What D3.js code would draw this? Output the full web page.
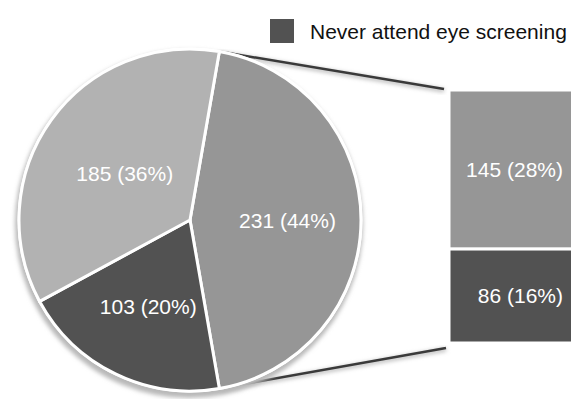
<!DOCTYPE html>
<html>
<head>
<meta charset="utf-8">
<script src="https://cdn.jsdelivr.net/npm/d3@7"></script>
<style>
  html, body { margin: 0; padding: 0; background: #fff; overflow: hidden; }
  svg { display: block; }
  text { font-family: "Liberation Sans", Arial, sans-serif; }
</style>
</head>
<body>
<svg id="chart" width="571" height="399"></svg>
<script>
// ---- data ----
const pieCategories = ["Other (split)", "Never attend eye screening", "Attend eye screening"];
const pieValues = [231, 103, 185];
const piePercents = ["44%", "20%", "36%"];
const barCategories = ["Split A", "Split B"];
const barValues = [145, 86];
const barPercents = ["28%", "16%"];
const legendLabels = ["Never attend eye screening"];

// ---- styles / layout ----
const pieColors = ["#969696", "#525252", "#b2b2b2"];
const barColors = ["#969696", "#525252"];
const labelRadius = [0.57, 0.56, 0.47];
const W = 571, H = 399;
const cx = 190, cy = 220, R = 171;

const svg = d3.select("#chart");
const defs = svg.append("defs");
defs.append("filter").attr("id", "blur").attr("x", "-10%").attr("y", "-10%")
  .attr("width", "120%").attr("height", "120%")
  .append("feGaussianBlur").attr("stdDeviation", 2);

// pie layout: "other" slice centred at the right
const total = d3.sum(pieValues);
const start = Math.PI / 2 - (pieValues[0] / total) * Math.PI;
const pie = d3.pie().sort(null).startAngle(start).endAngle(start + 2 * Math.PI);
const arcs = pie(pieValues);
const arc = d3.arc().innerRadius(0).outerRadius(R);

// bar scales
const barTotal = d3.sum(barValues);
const y = d3.scaleLinear().domain([0, barTotal]).range([343, 90]);
const x = d3.scaleBand().domain(["bar"]).range([449, 589]).padding(0);

// connector lines (drawn beneath the pie)
const other = arcs[0];
const pTop = [cx + R * Math.sin(other.startAngle), cy - R * Math.cos(other.startAngle)];
const pBot = [cx + R * Math.sin(other.endAngle), cy - R * Math.cos(other.endAngle)];
const conn = svg.append("g");
[[pTop, [x("bar") - 5, y(barTotal) - 1]], [pBot, [x("bar") - 3, y(0) + 5]]].forEach(([a, b]) => {
  conn.append("line").attr("x1", a[0]).attr("y1", a[1] + 1.5).attr("x2", b[0]).attr("y2", b[1] + 1.5)
    .attr("stroke", "#aaa").attr("stroke-width", 3).attr("filter", "url(#blur)");
  conn.append("line").attr("x1", a[0]).attr("y1", a[1]).attr("x2", b[0]).attr("y2", b[1])
    .attr("stroke", "#3a3a3a").attr("stroke-width", 2.5);
});

// pie shadow / bevel
const pg = svg.append("g").attr("transform", `translate(${cx},${cy})`);
pg.append("circle").attr("cx", -1).attr("cy", 4).attr("r", R + 3)
  .attr("fill", "#b8b8b8").attr("filter", "url(#blur)");
pg.append("circle").attr("r", R + 1.5).attr("fill", "#fff");

pg.selectAll("path.slice").data(arcs).join("path")
  .attr("class", "slice")
  .attr("d", arc)
  .attr("fill", (d, i) => pieColors[i])
  .attr("stroke", "#fff").attr("stroke-width", 3).attr("stroke-linejoin", "round");

pg.selectAll("text.plabel").data(arcs).join("text")
  .attr("class", "plabel")
  .attr("transform", (d, i) => {
    const a = (d.startAngle + d.endAngle) / 2;
    const r = R * labelRadius[i];
    return `translate(${r * Math.sin(a)},${-r * Math.cos(a)})`;
  })
  .attr("text-anchor", "middle").attr("dy", "0.36em")
  .attr("fill", "#fff").attr("font-size", 21)
  .text((d, i) => `${pieValues[i]} (${piePercents[i]})`);

// stacked bar: second value at bottom, first on top
const stackData = [];
let acc = 0;
for (let i = barValues.length - 1; i >= 0; i--) {
  stackData.push({ i, y0: acc, y1: acc + barValues[i] });
  acc += barValues[i];
}
const bg = svg.append("g");
bg.selectAll("rect").data(stackData).join("rect")
  .attr("x", x("bar")).attr("width", x.bandwidth())
  .attr("y", d => y(d.y1)).attr("height", d => y(d.y0) - y(d.y1))
  .attr("fill", d => barColors[d.i])
  .attr("stroke", "#fff").attr("stroke-width", 3);
bg.selectAll("text").data(stackData).join("text")
  .attr("x", 563)
  .attr("y", d => y((d.y0 + d.y1) / 2))
  .attr("text-anchor", "end").attr("dy", "0.36em")
  .attr("fill", "#fff").attr("font-size", 21)
  .text(d => `${barValues[d.i]} (${barPercents[d.i]})`);

// legend
const lg = svg.append("g").attr("transform", "translate(270,19)");
lg.append("rect").attr("width", 24).attr("height", 24).attr("fill", pieColors[1]);
lg.append("text").attr("x", 40).attr("y", 12).attr("dy", "0.36em")
  .attr("font-size", 21).attr("fill", "#111").text(legendLabels[0]);
</script>
</body>
</html>
